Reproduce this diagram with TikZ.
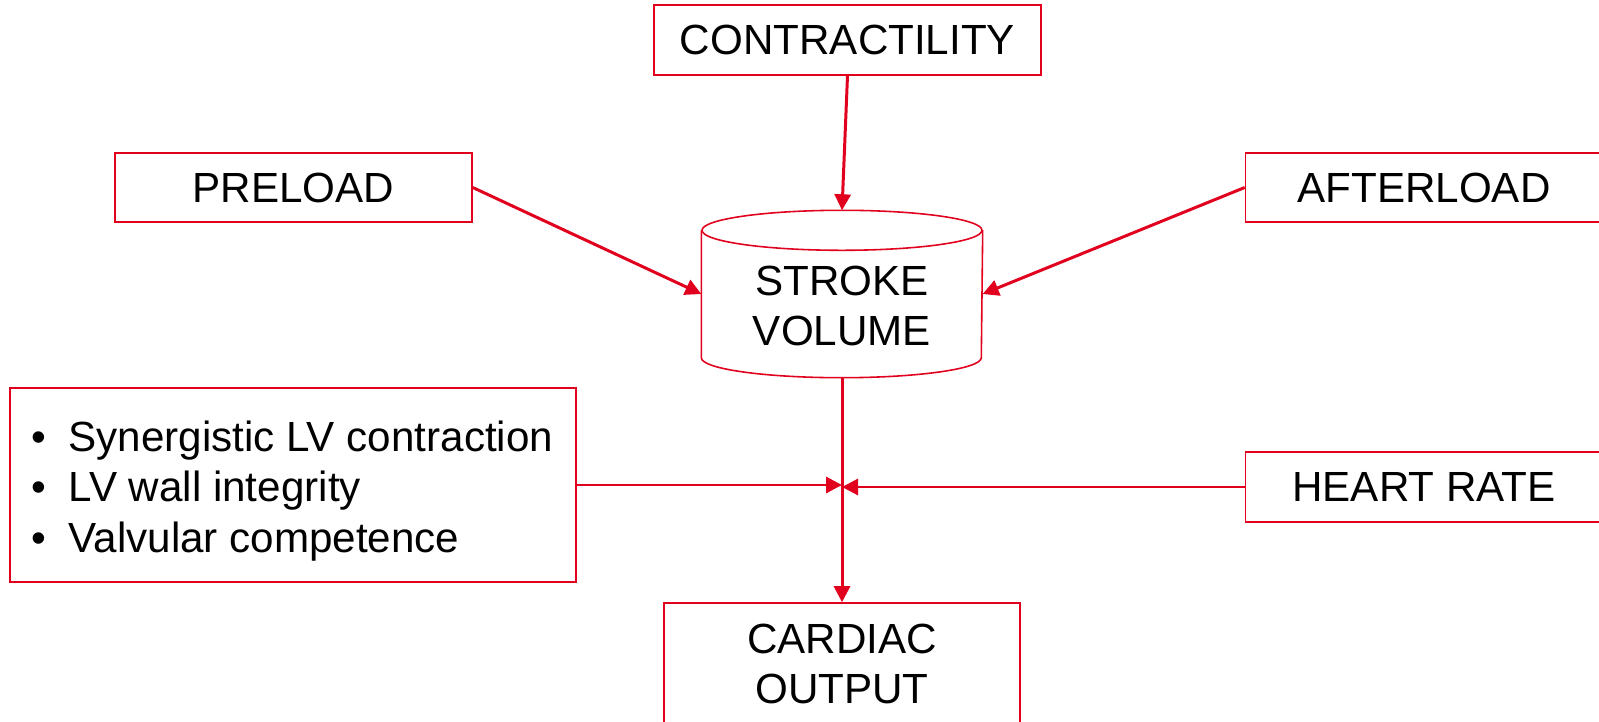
\documentclass[tikz,border=0pt]{standalone}
\usepackage{fontspec}
\setmainfont{Liberation Sans}
\usepackage{xcolor}
\usetikzlibrary{calc, arrows.meta}

\definecolor{cored}{RGB}{225,0,30}
\newcommand{\bulletpt}{\makebox[0.37cm][l]{•}}

\begin{document}
\begin{tikzpicture}[
		font = \fontsize{12}{14.4}\selectfont,
		box/.style = {draw = cored, line width = 0.45pt, minimum width = 3.57cm, minimum height = 0.69cm, inner sep = 0pt, align = center},
		link/.style = {draw = cored, line width = 0.85pt, -{Triangle[length = 1.6mm, width = 1.6mm]}}
	]
	\def\rx{1.4};
	\def\ry{0.2};
	
	\useasboundingbox (0,0) rectangle (15.99,7.21);
	\clip (0,0) rectangle (15.99,7.21);
	
	\begin{scope}
		\node [box, minimum width = 3.87cm, minimum height = 0.70cm] (contr) at (8.475,6.81) {CONTRACTILITY};
		\node [box] (pre) at (2.935,5.335) {PRELOAD};
		\node [box] (aft) at (14.24,5.335) {AFTERLOAD};
		\node [box, minimum height = 0.70cm] (hr) at (14.24,2.34) {HEART RATE};
		\node [box, minimum width = 5.66cm, minimum height = 1.94cm] (ext) at (2.93,2.36) {};
		\node [inner sep = 0pt, align = left, anchor = west] (extt) at (0.31,2.30) {\bulletpt Synergistic LV contraction\\ \bulletpt LV wall integrity\\ \bulletpt Valvular competence};
		\node [box, minimum width = 3.56cm, minimum height = 1.22cm] (co) at (8.42,0.57) {CARDIAC\\OUTPUT};
		
		\node [minimum width = 2.80cm, minimum height = 1.66cm, inner sep = 0pt] (sv) at (8.42,4.27) {};
		\node [inner sep = 0pt, align = center] (svt) at ($ (sv) + (0,-0.12) $) {STROKE\\VOLUME};
		\draw [cored, line width = 0.45pt] ($ (sv.north) + (0,-\ry) $) ellipse [x radius = \rx, y radius = \ry];
		\draw [cored, line width = 0.45pt] ($ (sv.north west) + (0,-\ry) $) -- ($ (sv.south west) + (0,\ry) $) arc [start angle = 180, end angle = 360, x radius = \rx, y radius = \ry] -- ($ (sv.north east) + (0,-\ry) $);
	\end{scope}
	
	\begin{scope}
		\coordinate (jl) at (sv.south |- ext.east);
		\coordinate (jr) at (sv.south |- hr.west);
		
		\draw [link] (contr.south) -- (sv.north);
		\draw [link] (pre.east) -- (sv.west);
		\draw [link] (aft.west) -- (sv.east);
		\draw [link] (sv.south) -- (co.north);
		\draw [link] (ext.east) -- (jl);
		\draw [link] (hr.west) -- (jr);
	\end{scope}
\end{tikzpicture}
\end{document}
